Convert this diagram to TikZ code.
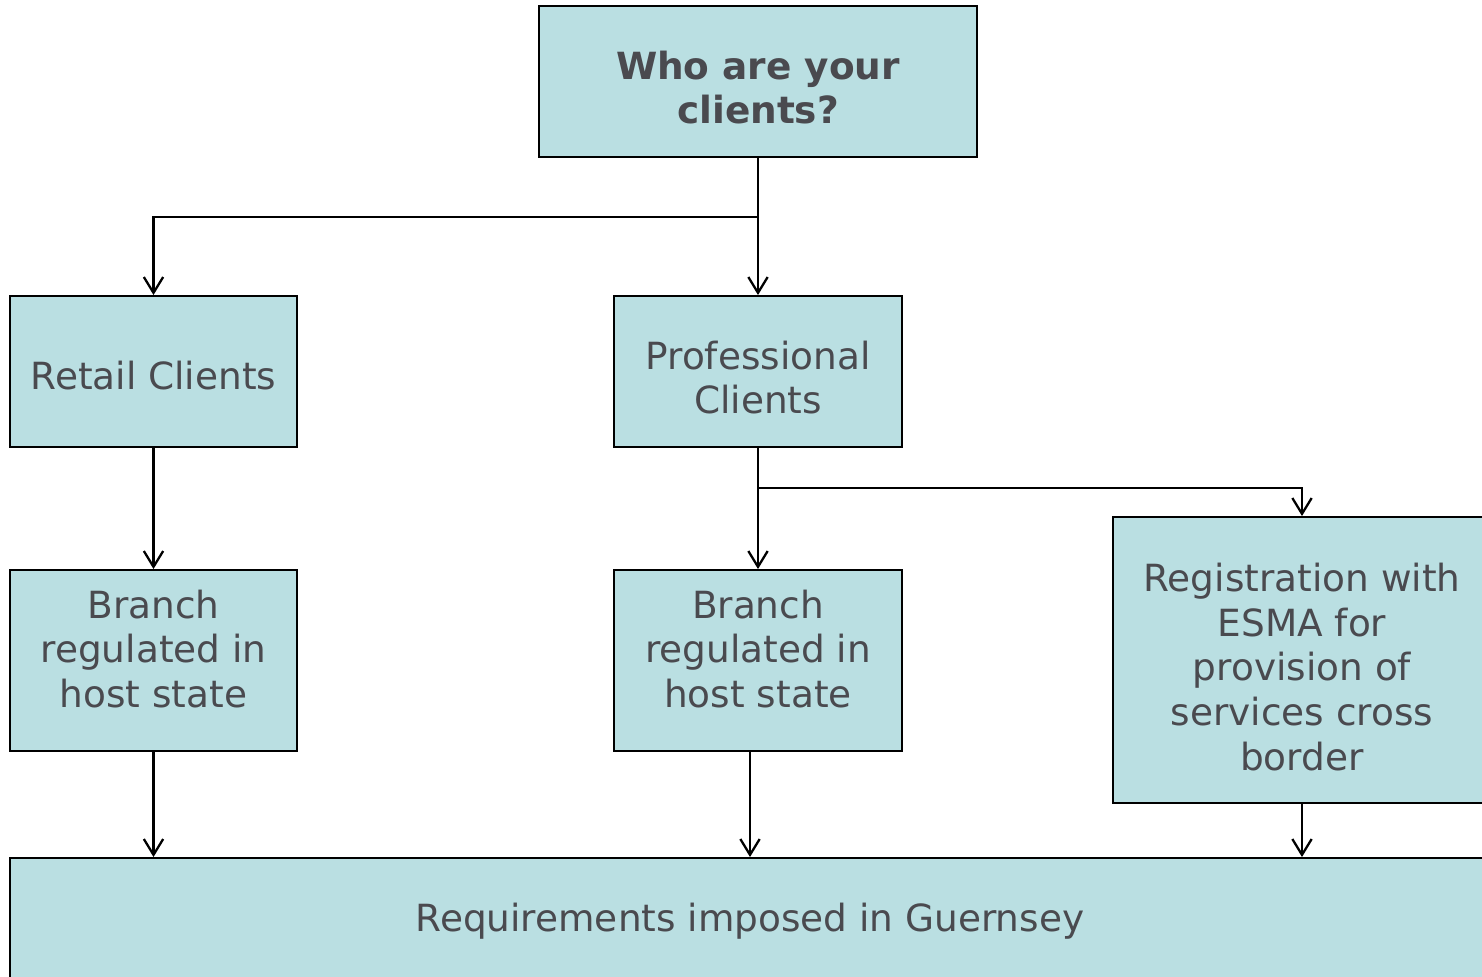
\documentclass[tikz,border=0pt]{standalone}
\usepackage{fontspec}
\setmainfont{DejaVu Sans}
\usetikzlibrary{arrows.meta}

\definecolor{boxfill}{HTML}{BADFE2}
\definecolor{boxtext}{HTML}{4A4A4F}

\begin{document}
\begin{tikzpicture}[
        x=0.02cm, y=-0.02cm,
        box/.style={draw, line width=1.1pt, fill=boxfill, inner sep=0pt},
        txt/.style={text=boxtext, align=center, inner sep=0pt,
                    font=\fontsize{21.3}{25.5}\selectfont},
        arr/.style={line width=1.3pt, -{Straight Barb[length=9pt, width=11pt, line width=1.3pt]}},
    ]
        \clip (0,0) rectangle (1482,977);

        % boxes, text nudged a little off centre
        \node[box, minimum width=438*0.02cm, minimum height=151*0.02cm,
              label={[txt, font=\fontsize{21.3}{25.5}\selectfont\bfseries, yshift=-0.12cm]center:Who are your\\clients?}]
              (q) at (758,81.5) {};
        \node[box, minimum width=287*0.02cm, minimum height=151*0.02cm,
              label={[txt, yshift=-0.08cm]center:Retail Clients}]
              (retail) at (153.5,371.5) {};
        \node[box, minimum width=288*0.02cm, minimum height=151*0.02cm,
              label={[txt, yshift=-0.12cm]center:Professional\\Clients}]
              (pro) at (758,371.5) {};
        \node[box, minimum width=287*0.02cm, minimum height=181*0.02cm,
              label={[txt, yshift=0.23cm]center:Branch\\regulated in\\host state}]
              (br1) at (153.5,660.5) {};
        \node[box, minimum width=288*0.02cm, minimum height=181*0.02cm,
              label={[txt, yshift=0.23cm]center:Branch\\regulated in\\host state}]
              (br2) at (758,660.5) {};
        \node[box, minimum width=378*0.02cm, minimum height=286*0.02cm,
              label={[txt, yshift=-0.14cm]center:Registration with\\ESMA for\\provision of\\services cross\\border}]
              (esma) at (1302,660) {};
        \node[box, minimum width=1480*0.02cm, minimum height=120*0.02cm,
              label={[txt, yshift=-0.06cm]center:Requirements imposed in Guernsey}]
              (req) at (750,918) {};

        \coordinate (split1) at (758,217);
        \coordinate (split2) at (758,488);

        \draw[arr] (q) -- (pro);
        \draw[line width=1.3pt] (q.south) -- (split1);
        \draw[arr] (split1) -| (retail);
        \draw[arr] (retail) -- (br1);
        \draw[arr] (pro) -- (br2);
        \draw[arr] (split2) -| (esma);
        \draw[arr] (br1) -- (br1 |- req.north);
        \draw[arr] (br2.south -| req.north) -- (req.north);
        \draw[arr] (esma) -- (esma |- req.north);
    \end{tikzpicture}
\end{document}
